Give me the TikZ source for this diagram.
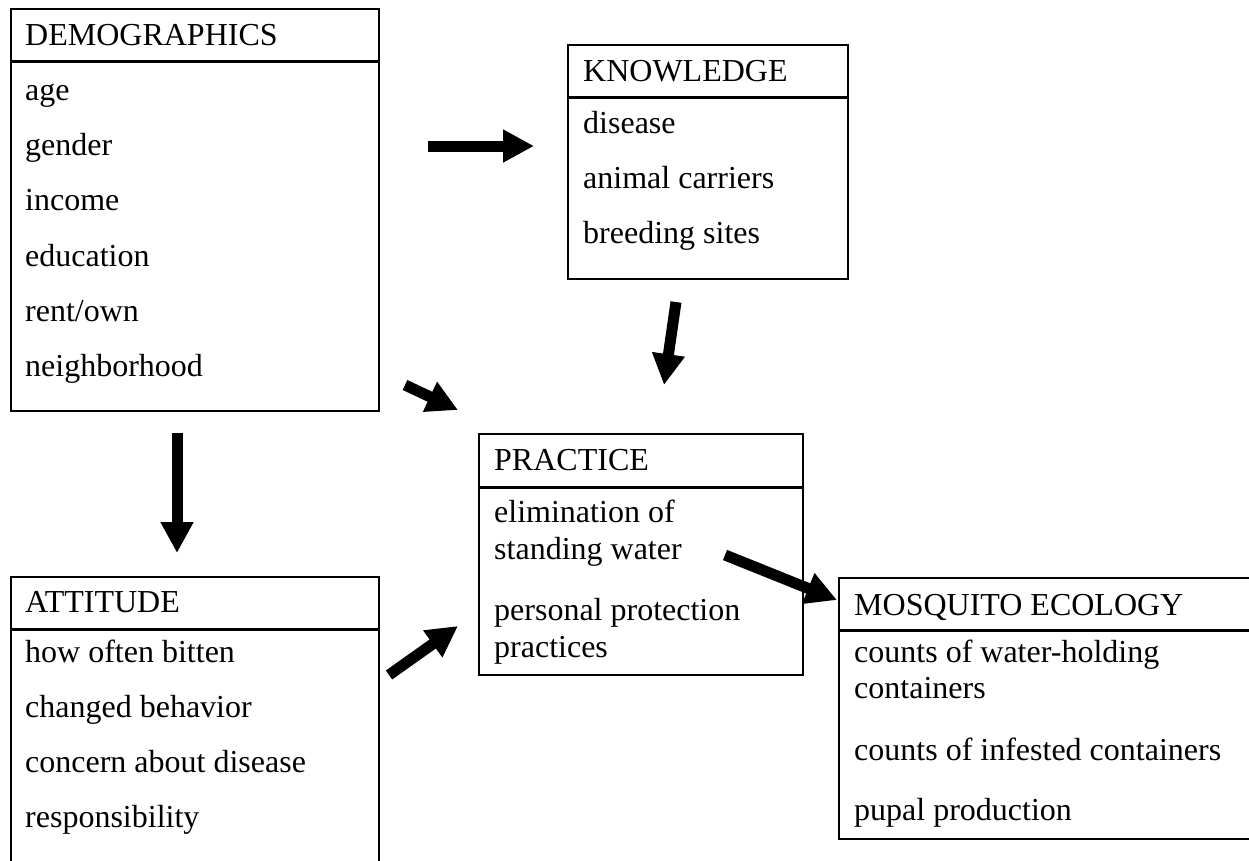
\documentclass[tikz,border=0pt]{standalone}
\usepackage{fontspec}
\setmainfont{Liberation Serif}
\usetikzlibrary{arrows.meta}
\tikzset{
  box/.style={draw=black, line width=2pt, anchor=north west, inner sep=0pt, fill=white},
  divline/.style={draw=black, line width=3pt},
  txt/.style={anchor=base west, inner sep=0pt, font=\fontsize{32}{37}\selectfont},
  fatarrow/.style={line width=11pt, -{Triangle[length=31pt,width=31pt]}}
}
\begin{document}
\begin{tikzpicture}[x=1pt,y=-1pt]
\useasboundingbox (0,0) rectangle (1249,860);
\clip (0,0) rectangle (1249,860);
\fill[white] (0,0) rectangle (1249,860);

% DEMOGRAPHICS
\node[box, minimum width=368pt, minimum height=402pt] (demo) at (10,8) {};
\draw[divline] (10,61) -- (378,61);
\node[txt] (demoh) at (25,45) {DEMOGRAPHICS};
\node[txt] (d1) at (25,100) {age};
\node[txt] (d2) at (25,155) {gender};
\node[txt] (d3) at (25,210) {income};
\node[txt] (d4) at (25,266) {education};
\node[txt] (d5) at (25,321) {rent/own};
\node[txt] (d6) at (25,376) {neighborhood};

% KNOWLEDGE
\node[box, minimum width=280pt, minimum height=234pt] (know) at (567,44) {};
\draw[divline] (567,97) -- (847,97);
\node[txt] (knowh) at (583,81) {KNOWLEDGE};
\node[txt] (k1) at (583,133) {disease};
\node[txt] (k2) at (583,188) {animal carriers};
\node[txt] (k3) at (583,243) {breeding sites};

% PRACTICE
\node[box, minimum width=324pt, minimum height=241pt] (prac) at (478,433) {};
\draw[divline] (478,487) -- (802,487);
\node[txt] (prach) at (494,470) {PRACTICE};
\node[txt] (p1) at (494,522) {elimination of};
\node[txt] (p2) at (494,559) {standing water};
\node[txt] (p3) at (494,620) {personal protection};
\node[txt] (p4) at (494,657) {practices};

% ATTITUDE
\node[box, minimum width=368pt, minimum height=320pt] (att) at (10,576) {};
\draw[divline] (10,629) -- (378,629);
\node[txt] (atth) at (25,612) {ATTITUDE};
\node[txt] (a1) at (25,662) {how often bitten};
\node[txt] (a2) at (25,717) {changed behavior};
\node[txt] (a3) at (25,772) {concern about disease};
\node[txt] (a4) at (25,827) {responsibility};

% MOSQUITO ECOLOGY
\node[box, minimum width=420pt, minimum height=261pt] (mosq) at (838,577) {};
\draw[divline] (838,630) -- (1260,630);
\node[txt] (mosqh) at (854,615) {MOSQUITO ECOLOGY};
\node[txt] (m1) at (854,662) {counts of water-holding};
\node[txt] (m2) at (854,698) {containers};
\node[txt] (m3) at (854,760) {counts of infested containers};
\node[txt] (m4) at (854,820) {pupal production};

% arrow end points
\coordinate (a1s) at (428,146);  \coordinate (a1e) at (534,146);
\coordinate (a2s) at (676,302);  \coordinate (a2e) at (664,385);
\coordinate (a3s) at (405,385);  \coordinate (a3e) at (458,410);
\coordinate (a4s) at (177,433);  \coordinate (a4e) at (177,553);
\coordinate (a5s) at (389,675);  \coordinate (a5e) at (458,626);
\coordinate (a6s) at (725,555);  \coordinate (a6e) at (837,600);

\draw[fatarrow] (a1s) -- (a1e);
\draw[fatarrow] (a2s) -- (a2e);
\draw[fatarrow] (a3s) -- (a3e);
\draw[fatarrow] (a4s) -- (a4e);
\draw[fatarrow] (a5s) -- (a5e);
\draw[fatarrow] (a6s) -- (a6e);
\end{tikzpicture}
\end{document}
